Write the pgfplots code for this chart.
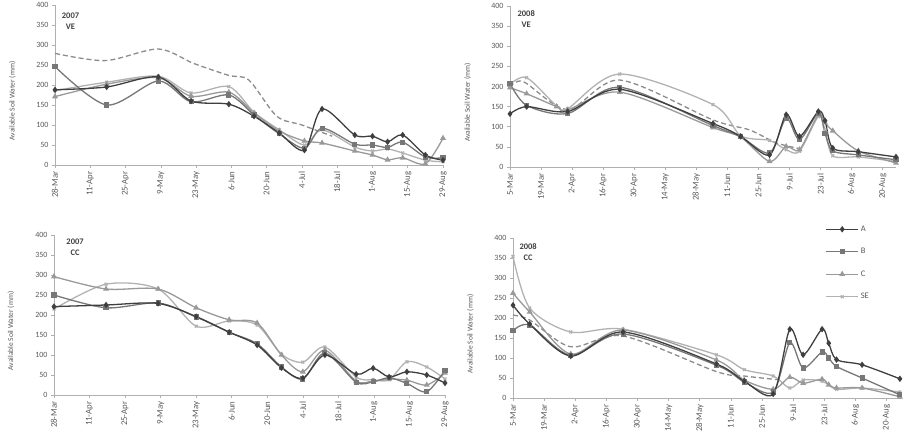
\documentclass[border=0pt]{standalone}
\usepackage{pgfplots}
\pgfplotsset{compat=1.18}
\usepackage{fontspec}
\setmainfont{Carlito}
\definecolor{cA}{HTML}{3F3F3F}
\definecolor{cB}{HTML}{777777}
\definecolor{cC}{HTML}{999999}
\definecolor{cSE}{HTML}{B2B2B2}
\definecolor{cD}{HTML}{8C8C8C}
\definecolor{axisgray}{HTML}{B0B0B0}
\definecolor{labgray}{HTML}{595959}
\definecolor{labdark}{HTML}{404040}
\tikzset{tag/.style={font=\bfseries\fontsize{8.5}{11}\selectfont, align=center, text=labdark}}
\pgfplotsset{
  common/.style={
    scale only axis,
    axis x line=bottom, axis y line=left,
    axis line style={draw=axisgray, line width=0.8pt, -},
    ymin=0, ymax=400, ytick={0,50,...,400},
    xmin=0,
    tick align=outside,
    major tick length=3pt,
    tick style={draw=axisgray, line width=0.6pt},
    ticklabel style={text=labgray},
    yticklabel style={font=\fontsize{8}{9}\selectfont},
    xticklabel style={rotate=90, anchor=east, font=\fontsize{8.8}{9}\selectfont},
    /pgf/number format/assume math mode=true,
    ylabel={Available Soil Water (mm)},
    ylabel style={at={(axis description cs:-0.11,0.4)}, anchor=center, rotate=0, font=\fontsize{7.5}{8}\selectfont, text=labgray},
    clip=false,
    legend image code/.code={\draw[mark repeat=2,mark phase=2,##1] plot coordinates {(0pt,0pt) (16pt,0pt) (32pt,0pt)};},
  },
  y2007/.style={xmax=154, xtick={0,14,...,154},
    xticklabels={28-Mar,11-Apr,25-Apr,9-May,23-May,6-Jun,20-Jun,4-Jul,18-Jul,1-Aug,15-Aug,29-Aug}},
  y2008/.style={xtick={0,14,...,168},
    xticklabels={5-Mar,19-Mar,2-Apr,16-Apr,30-Apr,14-May,28-May,11-Jun,25-Jun,9-Jul,23-Jul,6-Aug,20-Aug}},
  sA/.style={color=cA, line width=1.3pt, smooth, mark=diamond*, mark size=2.2pt, mark options={solid}},
  sB/.style={color=cB, line width=1.3pt, smooth, mark=square*, mark size=1.9pt, mark options={solid}},
  sC/.style={color=cC, line width=1.3pt, smooth, mark=triangle*, mark size=2.2pt, mark options={solid}},
  sSE/.style={color=cSE, line width=1.3pt, smooth, mark=x, mark size=2pt, mark options={solid}},
  sD/.style={color=cD, line width=1.3pt, smooth, dash pattern=on 5pt off 3pt, no marks},
}
\begin{document}
\begin{tikzpicture}
\path[use as bounding box] (0,0) rectangle (903pt,436pt);

% ---------- 2007 VE ----------
\begin{axis}[common, y2007, at={(55pt,271pt)}, anchor=south west, width=388pt, height=160pt]
\addplot[sD] coordinates {(0,279) (20,261) (41,290) (55,254) (69,224) (77,212) (88,122) (98,100) (110,72)};
\addplot[sSE] coordinates {(0,186) (20.5,207) (41,222) (54,180) (69,196) (79,132) (89,88) (99,50) (106,88) (119,45) (126,35) (132,40) (138,30) (147,12) (154,8)};
\addplot[sC] coordinates {(0,171) (20.5,202) (41,218) (54,172) (69,182) (79,130) (89,85) (99,60) (106,55) (119,35) (126,25) (132,13) (138,18) (147,3) (154,67)};
\addplot[sB] coordinates {(0,246) (20.5,150) (41,210) (54,158) (69,175) (79,125) (89,78) (99,42) (106,92) (119,52) (126,50) (132,44) (138,57) (147,20) (154,18)};
\addplot[sA] coordinates {(0,188) (20.5,195) (41,220) (54,160) (69,152) (79,122) (89,80) (99,37) (106,140) (119,75) (126,72) (132,58) (138,75) (147,25) (154,12)};
\node[tag] at (rel axis cs:0.04,0.90) {2007\\VE};
\end{axis}

% ---------- 2008 VE ----------
\begin{axis}[common, y2008, xmax=174, at={(510pt,269pt)}, anchor=south west, width=386pt, height=161pt]
\addplot[sD] coordinates {(0,198) (6,212) (26,143) (49.5,216) (91.5,117) (108,92) (120,60) (131,45)};
\addplot[sSE] coordinates {(0,205) (7.5,222) (21,152) (26,145) (49.5,231) (91.5,155) (104,78) (117,66) (124.5,43) (130.5,39) (139,125) (142,92) (145.5,28) (157,25) (174,14)};
\addplot[sC] coordinates {(0,197) (7.5,182) (21,150) (26,142) (49.5,186) (91.5,98) (104,74) (117,14) (124.5,51) (130.5,43) (139,130) (142,110) (145.5,90) (157,40) (174,10)};
\addplot[sB] coordinates {(0,208) (7.5,153) (26,133) (49.5,198) (91.5,103) (104,75) (117,35) (124.5,121) (130.5,68) (139,134) (142,84) (145.5,40) (157,30) (174,18)};
\addplot[sA] coordinates {(0,132) (7.5,150) (26,138) (49.5,193) (91.5,108) (104,76) (117,30) (124.5,130) (130.5,76) (139,138) (142,115) (145.5,47) (157,38) (174,25)};
\node[tag] at (rel axis cs:0.042,0.92) {2008\\VE};
\end{axis}

% ---------- 2007 CC ----------
\begin{axis}[common, y2007, at={(54pt,41pt)}, anchor=south west, width=391pt, height=160pt]
\addplot[sSE] coordinates {(0,215) (20.5,277) (41,265) (56,172) (69,185) (80,175) (89.6,102) (98,82) (106.7,120) (119,45) (125.7,38) (132,38) (139,83) (146.8,70) (154,40)};
\addplot[sC] coordinates {(0,296) (20.5,265) (41,265) (56,218) (69,188) (80,180) (89.6,100) (98,58) (106.7,112) (119,35) (125.7,35) (132,40) (139,37) (146.8,25) (154,55)};
\addplot[sB] coordinates {(0,250) (20.5,218) (41,230) (56,195) (69,157) (80,128) (89.6,70) (98,40) (106.7,105) (119,32) (125.7,33) (132,43) (139,29) (146.8,8) (154,62)};
\addplot[sA] coordinates {(0,221) (20.5,225) (41,229) (56,196) (69,157) (80,125) (89.6,68) (98,42) (106.7,100) (119,52) (125.7,67) (132,45) (139,58) (146.8,50) (154,30)};
\node[tag] at (rel axis cs:0.054,0.925) {2007\\CC};
\end{axis}

% ---------- 2008 CC ----------
\begin{axis}[common, y2008, xmax=174.5, at={(513pt,38pt)}, anchor=south west, width=388pt, height=160pt,
  legend style={at={(rel axis cs:0.805,1.09)}, anchor=north west, draw=none, fill=none,
    font=\fontsize{8.5}{10}\selectfont, text=labgray, row sep=11.5pt, inner sep=0pt,
    /tikz/every even column/.append style={column sep=6pt}},
  legend cell align=left, reverse legend]
\addplot[sD, forget plot] coordinates {(0,207) (7.5,195) (26,128) (49.5,155) (91.5,66) (104,55) (117,47) (121,45)};
\addplot[sSE] coordinates {(0,354) (7.5,225) (26,165) (49.5,172) (91.5,108) (104,71) (117,55) (124.5,25) (130.5,45) (139,42) (145.5,22) (157,25) (174,15)};
\addlegendentry{SE}
\addplot[sC] coordinates {(0,262) (7.5,215) (26,110) (49.5,170) (91.5,95) (104,45) (117,22) (124.5,52) (130.5,37) (139,47) (142,33) (145.5,25) (157,25) (174,3)};
\addlegendentry{C}
\addplot[sB] coordinates {(0,168) (7.5,182) (26,107) (49.5,160) (91.5,82) (104,40) (117,15) (124.5,138) (130.5,75) (139,115) (142,100) (145.5,79) (157,50) (174,8)};
\addlegendentry{B}
\addplot[sA] coordinates {(0,232) (7.5,185) (26,105) (49.5,165) (91.5,85) (104,42) (117,10) (124.5,172) (130.5,108) (139,172) (142,137) (145.5,96) (157,83) (174,48)};
\addlegendentry{A}
\node[tag] at (rel axis cs:0.039,0.915) {2008\\CC};
\end{axis}
\end{tikzpicture}
\end{document}
